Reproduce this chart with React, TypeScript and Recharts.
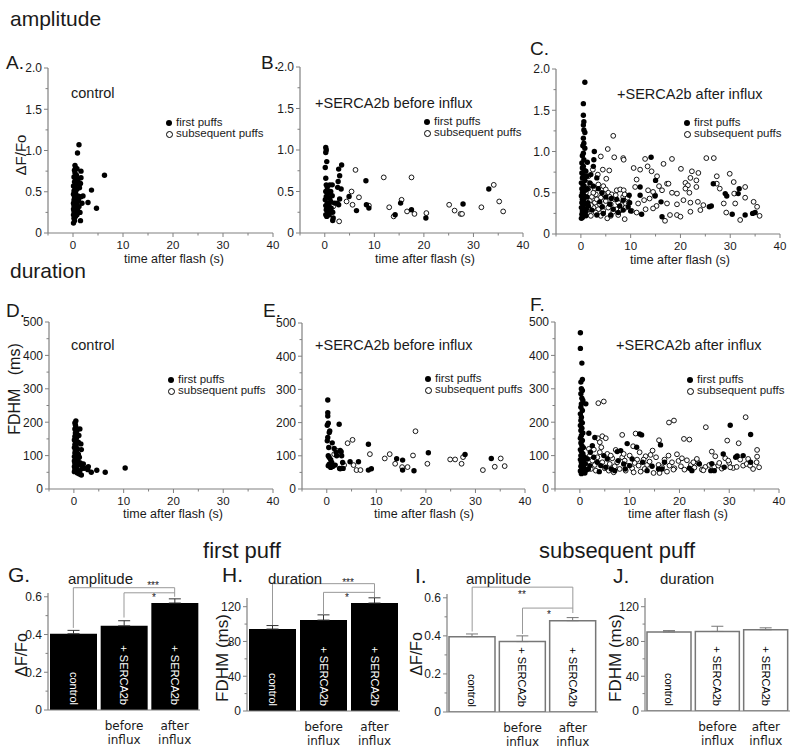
import React from "react";
import { Bar, BarChart, ErrorBar, LabelList, ReferenceLine, Scatter, ScatterChart, XAxis, YAxis } from "recharts";

// ---- scatter data: [time after flash (s), value] ----
const aAmpFirst = [[0.1,0.12],[0.3,0.15],[0.2,0.18],[0.5,0.2],[0.1,0.22],[0.4,0.24],[0.2,0.26],[0.6,0.27],[0.1,0.29],[0.3,0.3],[0.5,0.32],[0.2,0.33],[0.7,0.34],[0.1,0.36],[0.4,0.37],[0.9,0.38],[0.2,0.4],[0.6,0.42],[0.3,0.44],[1.0,0.45],[0.1,0.47],[0.5,0.49],[0.2,0.51],[0.8,0.53],[0.4,0.55],[0.1,0.57],[0.6,0.59],[1.1,0.6],[0.3,0.62],[0.5,0.65],[0.2,0.68],[0.7,0.7],[0.4,0.73],[0.3,0.76],[0.5,0.79],[0.4,0.82],[0.9,0.97],[1.2,1.07],[1.5,0.15],[1.4,0.25],[1.2,0.32],[1.8,0.36],[2.0,0.45],[1.6,0.44],[1.5,0.6],[1.6,0.67],[1.6,0.75],[1.3,0.55],[1.1,0.4],[3.0,0.37],[3.7,0.52],[4.7,0.3],[6.3,0.7],[0.9,0.28],[0.8,0.22],[1.0,0.65],[0.8,0.78]];

const bAmpFirst = [[0.2,1.03],[0.3,1.0],[0.2,0.97],[0.4,0.86],[0.1,0.79],[0.2,0.66],[0.3,0.58],[0.5,0.55],[0.2,0.5],[0.6,0.47],[0.3,0.44],[0.1,0.4],[0.5,0.36],[0.2,0.33],[0.7,0.3],[0.3,0.28],[0.6,0.25],[0.2,0.22],[0.4,0.2],[1.0,0.58],[1.5,0.58],[1.2,0.5],[1.5,0.45],[1.0,0.42],[0.8,0.35],[1.3,0.3],[1.6,0.25],[1.7,0.18],[1.6,0.15],[1.1,0.27],[2.0,0.36],[3.4,0.82],[2.8,0.77],[3.0,0.69],[2.7,0.62],[2.6,0.55],[3.3,0.53],[3.0,0.41],[2.5,0.36],[2.8,0.34],[4.9,0.44],[8.3,0.63],[6.4,0.27],[8.4,0.34],[8.9,0.3],[14.2,0.22],[15.3,0.36],[17.5,0.28],[20.4,0.18],[27.9,0.35],[33.1,0.53],[0.8,0.5],[1.2,0.38],[0.9,0.22]];
const bAmpSub = [[6.2,0.76],[11.9,0.67],[17.5,0.67],[5.4,0.5],[6.9,0.43],[4.4,0.38],[5.6,0.34],[8.9,0.33],[13.0,0.31],[13.9,0.2],[15.5,0.4],[16.6,0.26],[18.1,0.23],[20.5,0.24],[25.1,0.34],[26.2,0.27],[27.4,0.23],[27.7,0.23],[31.6,0.31],[34.1,0.58],[35.2,0.38],[36.0,0.26],[2.9,0.14],[1.7,0.32],[1.0,0.3]];

const cAmpFirst = [[0.8,1.84],[0.5,1.58],[0.5,1.44],[0.6,1.36],[0.5,1.32],[0.6,1.26],[0.8,1.23],[0.5,1.16],[0.6,1.1],[0.4,1.07],[0.8,1.04],[0.5,0.98],[0.3,0.95],[0.6,0.9],[0.2,0.86],[0.5,0.82],[0.3,0.8],[0.7,0.77],[0.2,0.74],[0.5,0.71],[0.3,0.68],[0.8,0.65],[0.1,0.62],[0.4,0.6],[0.6,0.58],[0.2,0.55],[0.9,0.53],[0.3,0.5],[0.5,0.48],[0.1,0.46],[0.7,0.44],[0.3,0.42],[0.5,0.4],[0.2,0.38],[0.8,0.36],[0.4,0.34],[0.1,0.32],[0.6,0.3],[0.3,0.28],[0.9,0.26],[0.2,0.24],[0.5,0.22],[0.3,0.2],[0.1,0.19],[1.2,0.7],[1.2,0.45],[1.1,0.3],[1.3,0.55],[1.4,0.38],[1.0,0.22],[2.7,1.0],[14.1,0.93],[1.3,0.87],[2.6,0.9],[2.5,0.82],[1.0,0.76],[2.0,0.72],[3.2,0.68],[1.8,0.62],[2.5,0.58],[3.5,0.55],[4.2,0.5],[5.0,0.45],[6.1,0.43],[7.2,0.42],[8.5,0.41],[9.7,0.47],[9.8,0.38],[11.9,0.57],[11.9,0.47],[14.9,0.46],[15.0,0.65],[16.1,0.39],[16.3,0.21],[12.2,0.24],[8.5,0.29],[7.5,0.26],[6.5,0.3],[6.0,0.23],[4.5,0.25],[3.2,0.23],[2.2,0.29],[1.5,0.34],[4.3,0.33],[5.8,0.36],[3.8,0.39],[7.8,0.34],[9.5,0.33],[10.0,0.28],[25.8,0.33],[26.2,0.34],[26.6,0.61],[29.3,0.46],[29.0,0.49],[30.4,0.24],[31.8,0.55],[31.6,0.49],[33.0,0.23],[34.5,0.25],[35.0,0.26]];
const cAmpSub = [[6.5,1.19],[5.4,1.03],[4.0,0.94],[6.7,0.93],[8.5,0.92],[8.6,0.9],[12.9,0.91],[18.3,0.91],[25.2,0.92],[26.7,0.92],[2.4,0.78],[4.4,0.78],[5.7,0.77],[10.6,0.8],[11.9,0.78],[13.4,0.82],[14.2,0.76],[16.6,0.85],[20.1,0.79],[22.3,0.76],[23.6,0.74],[27.3,0.7],[29.9,0.73],[3.4,0.72],[5.1,0.67],[11.2,0.66],[15.3,0.7],[17.3,0.61],[17.6,0.61],[21.0,0.62],[22.0,0.68],[23.2,0.65],[27.3,0.61],[30.7,0.63],[33.0,0.57],[21.5,0.59],[7.2,0.53],[7.9,0.54],[8.6,0.53],[10.9,0.57],[13.5,0.53],[15.7,0.58],[16.3,0.53],[18.3,0.5],[19.3,0.49],[21.0,0.55],[21.8,0.5],[23.2,0.57],[27.9,0.55],[30.8,0.49],[33.0,0.44],[14.9,0.47],[14.5,0.51],[8.5,0.45],[12.7,0.41],[13.8,0.43],[17.3,0.37],[19.3,0.36],[20.6,0.41],[22.0,0.38],[23.5,0.39],[28.7,0.37],[31.0,0.37],[34.7,0.39],[35.4,0.33],[24.6,0.35],[15.2,0.34],[11.5,0.37],[11.2,0.26],[16.9,0.16],[17.9,0.23],[19.3,0.23],[20.0,0.21],[22.0,0.27],[24.0,0.29],[29.2,0.26],[32.0,0.17],[35.9,0.22],[13.0,0.3],[14.5,0.31],[10.2,0.28],[8.8,0.18],[5.3,0.19],[7.5,0.23],[1.5,0.7],[2.0,0.6],[2.8,0.55],[3.5,0.6],[4.5,0.58],[5.0,0.54],[5.5,0.5],[6.2,0.48],[3.0,0.48],[2.2,0.45],[4.0,0.44],[6.8,0.42],[1.8,0.4],[2.8,0.38],[3.8,0.36],[5.0,0.4],[6.0,0.36],[7.5,0.38],[8.2,0.35],[9.0,0.32],[1.5,0.3],[2.5,0.32],[3.5,0.3],[4.5,0.28],[5.5,0.32],[6.5,0.27],[7.2,0.3],[8.0,0.29],[9.6,0.38],[1.2,0.25],[2.0,0.22],[3.0,0.26],[4.0,0.22],[6.0,0.22],[1.0,0.5],[1.2,0.62],[0.8,0.45],[1.5,0.55],[2.5,0.5],[3.2,0.42],[4.8,0.47],[5.8,0.45],[7.0,0.47],[2.0,0.35],[9.4,0.44],[8.8,0.48]];

const dDurFirst = [[0.1,52],[0.3,56],[0.2,60],[0.5,63],[0.1,67],[0.4,70],[0.7,73],[0.2,76],[0.5,80],[0.1,84],[0.8,86],[0.3,90],[0.6,93],[0.1,97],[0.4,100],[0.9,104],[0.2,108],[0.5,112],[0.3,116],[0.7,120],[0.1,124],[0.4,128],[0.2,133],[0.6,137],[0.3,142],[0.1,147],[0.5,152],[0.2,157],[0.4,163],[0.3,168],[0.6,174],[0.2,180],[0.4,186],[0.3,192],[0.2,198],[0.4,204],[1.2,180],[1.4,135],[1.5,118],[1.0,160],[1.1,95],[1.3,78],[1.5,70],[1.7,62],[1.2,55],[1.5,42],[1.1,45],[2.1,62],[2.9,67],[2.8,58],[3.5,50],[4.6,56],[6.3,50],[10.3,63],[0.9,140],[0.7,48],[1.9,75]];

const eDurFirst = [[0.2,268],[0.2,230],[0.2,220],[0.3,198],[0.1,192],[0.6,175],[0.5,170],[0.2,155],[0.1,145],[0.4,125],[1.1,139],[2.5,195],[0.3,100],[0.5,95],[0.8,88],[1.0,80],[0.5,75],[0.3,70],[0.8,65],[1.2,68],[1.7,72],[2.0,100],[1.9,110],[2.7,116],[2.9,112],[3.0,100],[3.2,80],[2.6,62],[2.7,61],[3.3,62],[4.7,82],[6.4,82],[8.4,135],[8.4,57],[9.0,61],[14.1,91],[15.3,87],[15.3,57],[17.6,55],[20.5,109],[27.9,104],[33.2,92],[1.5,122]];
const eDurSub = [[4.2,138],[5.2,148],[5.4,72],[6.0,57],[6.8,57],[8.7,105],[11.7,92],[12.7,105],[13.8,76],[15.2,66],[16.3,66],[17.4,101],[17.9,174],[20.3,76],[24.9,89],[25.9,89],[27.2,76],[27.5,96],[31.5,57],[33.9,67],[35.1,92],[35.9,69],[1.5,105],[2.0,115],[3.5,72],[1.0,75]];

const fDurFirst = [[0.1,468],[0.1,421],[0.4,377],[0.5,328],[0.2,320],[0.3,300],[0.5,295],[0.2,285],[0.4,272],[0.6,265],[1.2,255],[0.3,255],[0.2,245],[0.5,235],[0.1,225],[0.3,215],[0.2,205],[0.5,198],[0.1,190],[0.4,182],[0.2,175],[0.6,168],[0.3,160],[0.1,152],[0.5,145],[0.2,138],[0.4,130],[0.7,124],[0.1,118],[0.3,112],[0.6,106],[0.2,100],[0.9,96],[0.4,92],[0.1,88],[0.7,84],[0.3,80],[1.1,76],[0.5,72],[0.2,68],[0.8,64],[0.4,60],[1.3,57],[0.1,54],[0.6,50],[0.3,46],[1.0,48],[1.8,167],[3.0,154],[2.1,110],[2.8,95],[3.5,80],[4.2,70],[4.8,100],[5.5,90],[6.3,60],[7.0,55],[7.5,112],[8.2,115],[8.8,75],[9.5,136],[9.1,60],[10.5,90],[11.4,125],[12.0,165],[12.4,162],[12.6,80],[13.5,55],[14.5,68],[15.8,60],[16.2,132],[16.5,60],[17.0,80],[22.0,62],[22.5,55],[24.0,75],[26.3,55],[26.5,76],[27.0,55],[28.8,105],[29.0,65],[30.2,191],[31.3,95],[31.6,99],[32.8,100],[34.3,163],[34.3,80],[2.5,130],[5.2,65],[3.9,52],[7.7,85],[10.0,70],[2.0,70],[1.5,90],[1.7,60]];
const fDurSub = [[3.7,257],[4.8,262],[17.9,199],[18.9,205],[25.3,185],[33.3,215],[29.6,145],[31.9,137],[20.9,150],[22.0,148],[8.5,162],[11.2,166],[4.5,158],[3.6,152],[4.0,140],[4.3,125],[5.2,152],[7.2,117],[10.7,128],[15.9,146],[35.6,117],[35.6,97],[26.5,112],[19.5,104],[14.6,115],[13.2,98],[11.5,88],[8.5,95],[2.0,100],[2.5,85],[3.0,72],[3.5,95],[4.0,110],[4.5,80],[5.0,62],[5.5,105],[6.0,75],[6.5,92],[7.0,68],[7.5,80],[8.0,60],[9.0,85],[9.5,70],[10.0,100],[10.5,62],[11.0,78],[11.8,70],[12.2,52],[12.8,88],[13.5,72],[14.0,82],[14.8,48],[15.3,95],[15.8,72],[16.5,65],[17.0,88],[17.5,52],[18.0,70],[18.5,80],[19.0,62],[19.8,84],[20.3,68],[21.0,58],[21.5,86],[22.3,72],[23.0,64],[23.8,78],[24.5,58],[25.2,66],[26.0,72],[27.0,66],[27.8,70],[28.5,61],[29.2,92],[30.0,78],[30.8,63],[31.5,66],[32.2,88],[32.8,70],[33.5,75],[34.2,70],[34.8,60],[35.5,80],[36.0,65],[2.2,60],[3.2,55],[6.8,50],[9.2,55],[13.0,60],[16.0,48],[18.8,58],[24.8,56],[28.0,78],[30.2,65],[1.8,120],[2.8,118],[6.2,100],[8.8,105],[12.0,110],[14.2,102],[17.8,100],[20.5,92],[23.5,90],[27.2,98],[29.8,85],[33.8,90],[22.8,80],[5.8,55],[10.8,50]];

// ---- bar data ----
const groups = ["control", "before", "after"];
const innerLabels = ["control", "+ SERCA2b", "+ SERCA2b"];
const underTop = ["", "before", "after"];
const underBottom = ["", "influx", "influx"];
const ampFirstMean = [0.404, 0.446, 0.567];
const ampFirstErr = [0.018, 0.027, 0.022];
const durFirstMean = [94.3, 104.6, 124.2];
const durFirstErr = [4, 6, 6];
const ampSubMean = [0.396, 0.37, 0.48];
const ampSubErr = [0.014, 0.03, 0.016];
const durSubMean = [91, 91.5, 93.5];
const durSubErr = [1.5, 6, 2.2];

// ticks
const timeTicks = [-5, 0, 5, 10, 15, 20, 25, 30, 35, 40];
const ampTicks = [0, 0.25, 0.5, 0.75, 1, 1.25, 1.5, 1.75, 2];
const fdhmTicks = [0, 50, 100, 150, 200, 250, 300, 350, 400, 450, 500];
const barAmpTicks = [0, 0.1, 0.2, 0.3, 0.4, 0.5, 0.6];
const barDurTicks = [0, 20, 40, 60, 80, 100, 120];

// significance brackets [x1, y1, x2, y2]
const gBrackets = [["control",0.435,"control",0.648],["control",0.648,"after",0.648],["after",0.648,"after",0.6],["before",0.49,"before",0.621],["before",0.621,"after",0.621]];
const hBrackets = [["control",99,"control",146.5],["control",146.5,"after",146.5],["after",146.5,"after",131],["before",111,"before",136.5],["before",136.5,"after",136.5]];
const iBrackets = [["control",0.423,"control",0.656],["control",0.656,"after",0.656],["after",0.656,"after",0.52],["before",0.41,"before",0.546],["before",0.546,"after",0.546]];

const SANS = "'Liberation Sans', Arial, sans-serif";
const AXIS = "#808080";
const INK = "#1a1a1a";

const toXY = (pts: number[][]) => pts.map(([x, y]) => ({ x, y }));
const isMult = (v: number, m: number) => Math.abs(v / m - Math.round(v / m)) < 1e-6;

function TimeTick(t: any) {
  const v = t.payload.value;
  const major = isMult(v, 10);
  return (
    <g>
      <line x1={t.x} x2={t.x} y1={t.y} y2={t.y + (major ? 4 : 2.5)} stroke={AXIS} />
      {major && (
        <text x={t.x} y={t.y + 15.5} textAnchor="middle" fontSize={11.5} fontFamily={SANS} fill={INK}>{v}</text>
      )}
    </g>
  );
}

function makeYTick(major: number, fmt: (v: number) => string) {
  return (t: any) => {
    const v = t.payload.value;
    const isMajor = isMult(v, major);
    return (
      <g>
        <line x1={t.x} x2={t.x - (isMajor ? 4 : 2.5)} y1={t.y} y2={t.y} stroke={AXIS} />
        {isMajor && (
          <text x={t.x - 6} y={t.y} dy="0.36em" textAnchor="end" fontSize={12} fontFamily={SANS} fill={INK}>{fmt(v)}</text>
        )}
      </g>
    );
  };
}

const fmtAmp = (v: number) => (v === 0 ? "0" : v.toFixed(1));
const fmtInt = (v: number) => String(v);

function Txt({ x, y, size, center, rotate, color, family, children }: any) {
  const tr = rotate ? "translate(-50%,-50%) rotate(-90deg)" : center ? "translate(-50%,-50%)" : "translate(0,-50%)";
  return (
    <div style={{ position: "absolute", left: x, top: y, fontSize: size, lineHeight: 1, fontFamily: family || SANS, color: color || INK, whiteSpace: "pre", transform: tr }}>
      {children}
    </div>
  );
}

function PuffLegend({ x, y }: { x: number; y: number }) {
  return (
    <>
      <div style={{ position: "absolute", left: x - 3, top: y - 3, width: 6, height: 6, borderRadius: 3, background: "#000" }} />
      <Txt x={x + 7} y={y} size={11.5}>first puffs</Txt>
      <div style={{ position: "absolute", left: x - 3.5, top: y + 11 - 3.5, width: 5, height: 5, borderRadius: 4, border: "1px solid #000", background: "#fff" }} />
      <Txt x={x + 7} y={y + 11} size={11.5}>subsequent puffs</Txt>
    </>
  );
}

function ScatterPanel(p: { left: number; top: number; w: number; h: number; yMax: number; yTicks: number[]; major: number; fmt: (v: number) => string; first: number[][]; sub?: number[][] }) {
  const ML = 44, MT = 10, MR = 14, MB = 22;
  return (
    <div style={{ position: "absolute", left: p.left - ML, top: p.top - MT }}>
      <ScatterChart width={p.w + ML + MR} height={p.h + MT + MB} margin={{ top: MT, right: MR, bottom: 0, left: 0 }}>
        <XAxis type="number" dataKey="x" domain={[-5, 40]} ticks={timeTicks} interval={0} height={MB} tickSize={0} tickMargin={0} tickLine={false} axisLine={{ stroke: AXIS, strokeWidth: 1.2 }} tick={TimeTick} allowDataOverflow />
        <YAxis type="number" dataKey="y" domain={[0, p.yMax]} ticks={p.yTicks} interval={0} width={ML} tickSize={0} tickMargin={0} tickLine={false} axisLine={{ stroke: AXIS, strokeWidth: 1.2 }} tick={makeYTick(p.major, p.fmt)} allowDataOverflow />
        {p.sub && (
          <Scatter data={toXY(p.sub)} isAnimationActive={false} shape={(s: any) => <circle cx={s.cx} cy={s.cy} r={2.4} fill="#fff" stroke="#000" strokeWidth={0.9} />} />
        )}
        <Scatter data={toXY(p.first)} isAnimationActive={false} shape={(s: any) => <circle cx={s.cx} cy={s.cy} r={2.7} fill="#000" />} />
      </ScatterChart>
    </div>
  );
}

function BarTick(t: any) {
  const i = t.index;
  return (
    <text x={t.x} y={t.y + 20} textAnchor="middle" fontSize={12} fontFamily="'DejaVu Sans', sans-serif" fill={INK}>
      <tspan x={t.x}>{underTop[i]}</tspan>
      <tspan x={t.x} dy={13.5}>{underBottom[i]}</tspan>
    </text>
  );
}

function BarPanel(p: { left: number; top: number; w: number; h: number; yMax: number; yTicks: number[]; major: number; fmt: (v: number) => string; mean: number[]; err: number[]; dark: boolean; brackets?: any[] }) {
  const ML = 44, MT = 30, MR = 6, MB = 36;
  const data = groups.map((g, i) => ({ name: g, v: p.mean[i], err: [0, p.err[i]], inner: innerLabels[i] }));
  return (
    <div style={{ position: "absolute", left: p.left - ML, top: p.top - MT }}>
      <BarChart width={p.w + ML + MR} height={p.h + MT + MB} data={data} margin={{ top: MT, right: MR, bottom: 0, left: 0 }} barCategoryGap={2}>
        <XAxis dataKey="name" type="category" height={MB} tickSize={0} tickMargin={0} tickLine={false} interval={0} axisLine={{ stroke: AXIS, strokeWidth: 1.2 }} tick={BarTick} />
        <YAxis type="number" domain={[0, p.yMax]} ticks={p.yTicks} interval={0} width={ML} tickSize={0} tickMargin={0} tickLine={false} axisLine={{ stroke: AXIS, strokeWidth: 1.2 }} tick={makeYTick(p.major, p.fmt)} allowDataOverflow />
        <Bar dataKey="v" fill={p.dark ? "#000" : "#fff"} stroke={p.dark ? "#000" : "#777"} strokeWidth={p.dark ? 0 : 1.5} isAnimationActive={false}>
          <ErrorBar dataKey="err" width={6} stroke={p.dark ? "#333" : "#777"} strokeWidth={1} />
          <LabelList
            dataKey="inner"
            content={(l: any) => {
              const cx = l.x + l.width / 2;
              const by = l.y + l.height - 5;
              return (
                <text x={cx} y={by} transform={`rotate(90 ${cx} ${by})`} textAnchor="end" dominantBaseline="central" fontSize={11} fontFamily={SANS} fill={p.dark ? "#fff" : "#000"}>
                  {l.value}
                </text>
              );
            }}
          />
        </Bar>
        {(p.brackets || []).map((b, i) => (
          <ReferenceLine key={i} segment={[{ x: b[0], y: b[1] }, { x: b[2], y: b[3] }]} ifOverflow="visible" stroke="#999" strokeWidth={1} />
        ))}
      </BarChart>
    </div>
  );
}

export default function App() {
  return (
    <div style={{ position: "absolute", left: 0, top: 0, width: 800, height: 747, background: "#fff", overflow: "hidden" }}>
      <ScatterPanel left={48} top={68} w={225} h={165} yMax={2} yTicks={ampTicks} major={0.5} fmt={fmtAmp} first={aAmpFirst} />
      <ScatterPanel left={300} top={67} w={223} h={166} yMax={2} yTicks={ampTicks} major={0.5} fmt={fmtAmp} first={bAmpFirst} sub={bAmpSub} />
      <ScatterPanel left={556} top={69} w={224} h={165} yMax={2} yTicks={ampTicks} major={0.5} fmt={fmtAmp} first={cAmpFirst} sub={cAmpSub} />
      <ScatterPanel left={49} top={322} w={224} h={167} yMax={500} yTicks={fdhmTicks} major={100} fmt={fmtInt} first={dDurFirst} />
      <ScatterPanel left={302} top={323} w={223} h={166} yMax={500} yTicks={fdhmTicks} major={100} fmt={fmtInt} first={eDurFirst} sub={eDurSub} />
      <ScatterPanel left={555} top={322} w={224} h={167} yMax={500} yTicks={fdhmTicks} major={100} fmt={fmtInt} first={fDurFirst} sub={fDurSub} />

      <BarPanel left={48} top={593} w={152} h={117} yMax={0.62} yTicks={barAmpTicks} major={0.2} fmt={fmtAmp} mean={ampFirstMean} err={ampFirstErr} dark brackets={gBrackets} />
      <BarPanel left={247} top={598} w={153} h={113} yMax={130} yTicks={barDurTicks} major={40} fmt={fmtInt} mean={durFirstMean} err={durFirstErr} dark brackets={hBrackets} />
      <BarPanel left={447} top={594} w={151} h={118} yMax={0.62} yTicks={barAmpTicks} major={0.2} fmt={fmtAmp} mean={ampSubMean} err={ampSubErr} dark={false} brackets={iBrackets} />
      <BarPanel left={645} top={598} w={145} h={113} yMax={130} yTicks={barDurTicks} major={40} fmt={fmtInt} mean={durSubMean} err={durSubErr} dark={false} />

      {/* section headings */}
      <Txt x={10} y={18} size={21}>amplitude</Txt>
      <Txt x={10} y={270} size={21}>duration</Txt>
      <Txt x={242} y={551} size={22} center>first puff</Txt>
      <Txt x={617} y={551} size={22} center>subsequent puff</Txt>

      {/* panel letters */}
      <Txt x={6} y={62} size={19}>A.</Txt>
      <Txt x={261} y={62} size={19}>B.</Txt>
      <Txt x={530} y={48} size={19}>C.</Txt>
      <Txt x={6} y={310} size={19}>D.</Txt>
      <Txt x={263} y={310} size={19}>E.</Txt>
      <Txt x={530} y={304} size={19}>F.</Txt>
      <Txt x={8} y={574} size={21}>G.</Txt>
      <Txt x={222} y={574} size={21}>H.</Txt>
      <Txt x={415} y={575} size={21}>I.</Txt>
      <Txt x={613} y={575} size={21}>J.</Txt>

      {/* scatter annotations */}
      <Txt x={71} y={93} size={14.5}>control</Txt>
      <Txt x={315} y={103} size={14.5}>+SERCA2b before influx</Txt>
      <Txt x={617} y={94} size={14.5}>+SERCA2b after influx</Txt>
      <Txt x={71} y={345} size={14.5}>control</Txt>
      <Txt x={315} y={345} size={14.5}>+SERCA2b before influx</Txt>
      <Txt x={616} y={345} size={14.5}>+SERCA2b after influx</Txt>
      <PuffLegend x={169} y={123} />
      <PuffLegend x={427} y={122} />
      <PuffLegend x={687} y={123} />
      <PuffLegend x={171} y={380} />
      <PuffLegend x={428} y={379} />
      <PuffLegend x={690} y={380} />

      {/* axis titles */}
      <Txt x={174} y={259} size={12.5} center>time after flash (s)</Txt>
      <Txt x={425} y={259} size={12.5} center>time after flash (s)</Txt>
      <Txt x={680} y={260} size={12.5} center>time after flash (s)</Txt>
      <Txt x={173} y={514} size={12.5} center>time after flash (s)</Txt>
      <Txt x={424} y={514} size={12.5} center>time after flash (s)</Txt>
      <Txt x={678} y={514} size={12.5} center>time after flash (s)</Txt>
      <Txt x={20} y={155} size={15} rotate>ΔF/Fo</Txt>
      <Txt x={15} y={389} size={16} rotate>FDHM   (ms)</Txt>
      <Txt x={22} y={655} size={16} rotate>ΔF/Fo</Txt>
      <Txt x={222} y={658} size={17} rotate>FDHM (ms)</Txt>
      <Txt x={417} y={654} size={16} rotate>ΔF/Fo</Txt>
      <Txt x={615} y={658} size={17} rotate>FDHM (ms)</Txt>

      {/* bar panel titles and significance marks */}
      <Txt x={68} y={578} size={15}>amplitude</Txt>
      <Txt x={268} y={578} size={15}>duration</Txt>
      <Txt x={466} y={578} size={15}>amplitude</Txt>
      <Txt x={660} y={578} size={15}>duration</Txt>
      <Txt x={153} y={586} size={10} center>***</Txt>
      <Txt x={154} y={598} size={10} center>*</Txt>
      <Txt x={348} y={583} size={10} center>***</Txt>
      <Txt x={347} y={598} size={10} center>*</Txt>
      <Txt x={522} y={595} size={10} center>**</Txt>
      <Txt x={549} y={615} size={10} center>*</Txt>
    </div>
  );
}
